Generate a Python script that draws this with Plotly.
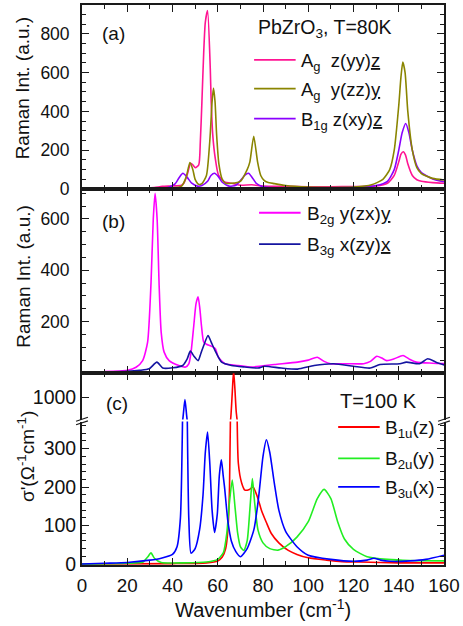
import plotly.graph_objects as go

# ---------------- data ----------------
# Panel (a): Raman, PbZrO3 T=80K
a_pink_x = [0, 10, 20, 28, 32, 35.5, 40, 44, 45, 46.5, 48, 49, 50.1, 51.6, 52.3, 53, 53.8, 54.5, 55.5, 56.7, 57.1, 57.8, 58.9, 60.3, 63, 67, 70, 75, 80, 90, 100, 110, 120, 130, 135, 138, 140, 141, 142, 143, 144, 146, 148, 150, 155, 160]
a_pink_y = [3, 3, 4, 5, 8, 14, 16, 20, 30, 74, 132, 125, 110, 125, 244, 449, 705, 859, 919, 620, 449, 278, 158, 73, 36, 28, 20, 22, 16, 14, 12, 12, 13, 16, 30, 70, 140, 180, 192, 175, 130, 70, 48, 40, 33, 30]

a_olive_x = [0, 30, 40, 44, 46, 47.7, 49, 50, 51.5, 53, 55, 56.5, 57.5, 58.1, 58.8, 59.5, 60.5, 62, 63.5, 66, 70, 73, 74.2, 75.9, 77.6, 79, 80.5, 82, 85, 90, 100, 110, 120, 128, 133, 136, 138, 140, 141, 141.8, 142.8, 144, 146, 148, 150, 155, 160]
a_olive_y = [2, 3, 5, 15, 60, 137, 100, 50, 25, 28, 70, 250, 450, 520, 450, 280, 130, 50, 30, 30, 40, 100, 140, 272, 140, 70, 45, 35, 28, 18, 10, 8, 10, 22, 50, 100, 200, 430, 580, 654, 600, 400, 200, 110, 80, 55, 47]

a_purple_x = [0, 30, 38, 41, 43, 44.6, 46.5, 48.5, 51, 53, 55.5, 57, 58.6, 60.2, 62, 65, 68, 70.5, 72, 73.6, 75.2, 77, 80, 90, 100, 120, 130, 135, 138, 140, 141.5, 143.1, 144.5, 146, 148, 150, 155, 160]
a_purple_y = [2, 3, 8, 25, 60, 81, 60, 30, 15, 18, 40, 70, 81, 65, 35, 15, 20, 50, 72, 81, 60, 30, 12, 6, 6, 9, 18, 40, 100, 200, 290, 338, 290, 200, 120, 85, 52, 38]

# Panel (b): Raman
b_mag_x = [10, 20, 23.9, 26.8, 29, 30.5, 31.5, 32.3, 33.2, 34.1, 35, 36.3, 38.5, 42.8, 45.8, 47.2, 48.2, 49.4, 50.4, 51.3, 52.1, 52.8, 53.8, 55, 57, 58.9, 60.3, 63.2, 69, 75, 85, 95.3, 100, 104, 107, 109.9, 117, 124.5, 127.5, 130.3, 132.5, 134.7, 138, 141.9, 145, 147.7, 155, 160.8]
b_mag_y = [5, 10, 22, 48, 120, 350, 600, 700, 600, 340, 158, 81, 48, 29, 23, 35, 81, 184, 270, 297, 250, 184, 120, 112, 105, 95, 61, 36, 29, 23, 33, 42, 50, 61, 45, 36, 36, 36, 45, 65, 58, 48, 55, 68, 52, 42, 38, 36]

b_navy_x = [10, 20, 25.4, 29.7, 33.1, 35.7, 40.1, 44.5, 46.5, 47.9, 49.5, 51.3, 52.5, 53.8, 55.7, 57.1, 58.8, 61.7, 66.1, 72, 77.8, 80.7, 88, 95.3, 102.6, 111.3, 120, 127.4, 131.7, 140.5, 143.4, 149.2, 152.8, 156.5, 160.8]
b_navy_y = [3, 6, 10, 16, 42, 19, 20, 29, 55, 85, 65, 48, 75, 107, 146, 120, 87, 42, 29, 23, 19, 26, 19, 15, 29, 36, 26, 19, 33, 36, 42, 36, 55, 42, 29]

# Panel (c): optical conductivity, T=100 K
c_red_x = [0, 40, 55, 60, 62, 63.5, 64.5, 65.2, 65.8, 66.4, 67, 67.6, 68.2, 69.1, 70.6, 72, 74, 75.6, 77.5, 79.3, 81.5, 83.6, 87, 91, 95, 100, 108, 115, 123, 140, 160]
c_red_y = [0, 1, 3, 8, 18, 40, 90, 200, 500, 1100, 1700, 1200, 600, 262, 210, 192, 194, 200, 175, 140, 108, 80, 55, 36, 25, 16, 10, 6, 5, 3, 3]

c_green_x = [0, 20, 27, 29, 30.5, 32, 35, 45, 55, 60, 62.5, 64, 65, 66.4, 67.6, 68.8, 70, 71.5, 73, 74.3, 75.3, 76.3, 77.8, 80, 83, 86.6, 90, 95, 100, 104, 107, 110, 113, 116, 120, 126, 135, 145, 160]
c_green_y = [0, 2, 5, 18, 29, 15, 4, 3, 5, 12, 30, 80, 150, 218, 150, 80, 45, 35, 60, 150, 222, 160, 88, 55, 40, 36, 45, 70, 110, 170, 194, 170, 110, 65, 38, 19, 12, 9, 8]

c_blue_x = [0, 10, 20, 30, 35, 40, 42, 43.5, 44.5, 45.5, 46.3, 47.2, 48.2, 50, 52, 53.5, 54.5, 55.5, 56.5, 57.5, 58.6, 59.8, 60.7, 61.6, 62.4, 63, 64.5, 66, 68, 70, 73, 76, 78, 80, 81.5, 83, 85, 87, 90, 95, 100, 110, 120, 126, 129, 132, 136, 145, 152, 160]
c_blue_y = [0, 2, 4, 10, 15, 25, 45, 120, 400, 940, 500, 120, 28, 40, 90, 180, 290, 343, 260, 140, 82, 130, 230, 271, 230, 200, 110, 60, 32, 19, 40, 90, 170, 280, 323, 290, 210, 140, 85, 45, 23, 12, 7, 10, 15, 10, 7, 8, 12, 23]

x_ticks = [0, 20, 40, 60, 80, 100, 120, 140, 160]

# ---------------- layout helpers ----------------
W, H = 463, 626
L, R, T, B = 82, 448, 3, 565   # plot area in pixels


def px(x, y):
    return (x - L) / (R - L), (B - y) / (B - T)


FONT = "Liberation Sans, Arial, Helvetica, sans-serif"
AX = "#1a1a1a"

dom_a = [px(0, 188)[1], 1.0]
dom_b = [px(0, 372.5)[1], px(0, 188)[1]]
dom_c_hi = [px(0, 419)[1], px(0, 372.5)[1]]
dom_c_lo = [0.0, px(0, 421)[1]]

fig = go.Figure()

def add(x, y, color, xa, ya):
    fig.add_trace(go.Scatter(x=x, y=y, mode="lines", xaxis=xa, yaxis=ya,
                             line=dict(color=color, width=1.6, shape="spline", smoothing=0.6),
                             showlegend=False, hoverinfo="skip"))

c_pink, c_olive, c_purple = "#ff1493", "#8a8500", "#8a00ff"
c_mag, c_navy = "#ff00ff", "#1414a0"
c_r, c_g, c_b = "#ff0000", "#22ee22", "#0000ff"

add(a_pink_x, a_pink_y, c_pink, "x", "y")
add(a_purple_x, a_purple_y, c_purple, "x", "y")
add(a_olive_x, a_olive_y, c_olive, "x", "y")

add(b_mag_x, b_mag_y, c_mag, "x2", "y2")
add(b_navy_x, b_navy_y, c_navy, "x2", "y2")

for xa, ya in (("x3", "y3"), ("x4", "y4")):
    add(c_red_x, c_red_y, c_r, xa, ya)
    add(c_green_x, c_green_y, c_g, xa, ya)
    add(c_blue_x, c_blue_y, c_b, xa, ya)

def tf(size):
    return dict(family=FONT, size=size, color="#111")

def xaxis(anchor, labels=False, mirror="ticks", side="bottom"):
    return dict(domain=[0, 1], anchor=anchor, range=[0, 160], tickvals=x_ticks,
                ticks="inside", ticklen=7, tickwidth=1.2, tickcolor=AX,
                minor=dict(dtick=10, tick0=0, ticks="inside", ticklen=4, tickwidth=1.2, tickcolor=AX),
                showline=True, linewidth=1.8, linecolor=AX, mirror=mirror, side=side,
                showgrid=False, zeroline=False, showticklabels=labels, tickfont=tf(18.8),
                ticklabelstandoff=3, ticklabeloverflow="allow")

def yaxis(anchor, dom, rng, tv, mdt, size, standoff):
    d = dict(domain=dom, anchor=anchor, range=rng, tickvals=tv,
             ticks="inside", ticklen=7, tickwidth=1.2, tickcolor=AX,
             showline=True, linewidth=1.8, linecolor=AX, mirror="ticks",
             showgrid=False, zeroline=False, tickfont=tf(size), ticklabelstandoff=standoff)
    if mdt:
        d["minor"] = dict(dtick=mdt, tick0=0, ticks="inside", ticklen=4, tickwidth=1.2, tickcolor=AX)
    return d

fig.update_layout(
    width=W, height=H, margin=dict(l=L, r=W - R, t=T, b=H - B),
    paper_bgcolor="white", plot_bgcolor="white",
    xaxis=xaxis("y"),
    yaxis=yaxis("x", dom_a, [-1.5, 948], [0, 200, 400, 600, 800], 50, 17.5, 7),
    xaxis2=xaxis("y2"),
    yaxis2=yaxis("x2", dom_b, [-1, 715.5], [200, 400, 600], 50, 17.5, 7),
    xaxis3=xaxis("y3", labels=True, mirror=False),
    yaxis3=yaxis("x3", dom_c_lo, [-2.6, 370.5], [0, 100, 200, 300], 20, 19.5, 0),
    xaxis4=xaxis("y4", mirror=False, side="top"),
    yaxis4=yaxis("x4", dom_c_hi, [420, 1630], [1000], None, 19.5, 0),
)

ann = []
def text(x, y, s, size=18.5, xanchor="left", angle=0):
    X, Y = px(x, y)
    ann.append(dict(x=X, y=Y, xref="paper", yref="paper", text=s, showarrow=False,
                    xanchor=xanchor, yanchor="middle", textangle=angle,
                    font=dict(family=FONT, size=size, color="#111")))

shapes = []
def seg(x0, y0, x1, y1, color, w=1.8):
    X0, Y0 = px(x0, y0)
    X1, Y1 = px(x1, y1)
    shapes.append(dict(type="line", xref="paper", yref="paper", x0=X0, y0=Y0, x1=X1, y1=Y1,
                       line=dict(color=color, width=w)))

# panel labels
text(100, 32, "(a)", size=19)
text(100, 220, "(b)", size=19)
text(104, 403, "(c)", size=19)

# panel (a) title + legend
text(258, 27, "PbZrO<sub>3</sub>, T=80K", size=19.5)
for yy, col, s in ((58, c_pink, "A<sub>g</sub>  z(yy)<u>z</u>"),
                   (87, c_olive, "A<sub>g</sub>  y(zz)<u>y</u>"),
                   (117, c_purple, "B<sub>1g</sub> z(xy)<u>z</u>")):
    seg(256, yy, 298, yy, col)
    text(301, yy + 2, s)

# panel (b) legend
for yy, col, s in ((211.5, c_mag, "B<sub>2g</sub> y(zx)<u>y</u>"),
                   (243, c_navy, "B<sub>3g</sub> x(zy)<u>x</u>")):
    seg(261, yy, 303, yy, col)
    text(307, yy + 2, s, size=19)

# panel (c) legend
text(341, 400, "T=100 K", size=20)
for yy, col, s in ((426.5, c_r, "B<sub>1u</sub>(z)"),
                   (458, c_g, "B<sub>2u</sub>(y)"),
                   (486.5, c_b, "B<sub>3u</sub>(x)")):
    seg(341, yy, 383, yy, col)
    text(386, yy + 2, s, size=19)

# axis titles
text(22, 86, "Raman Int. (a.u.)", size=19, angle=-90, xanchor="center")
text(22, 275, "Raman Int. (a.u.)", size=19, angle=-90, xanchor="center")
text(26, 456, "σ'(Ω<sup>-1</sup>cm<sup>-1</sup>)", size=19, angle=-90, xanchor="center")
text(265, 609, "Wavenumber (cm<sup>-1</sup>)", size=20, xanchor="center")

# axis-break marks
for xc in (L, R):
    for dy in (-1.8, 1.8):
        seg(xc - 6, 422.5 + dy, xc + 6, 418.5 + dy, AX, 1.2)

fig.update_layout(annotations=ann, shapes=shapes)
fig.write_html("out.html", config={"displayModeBar": False},
               post_script="document.body.style.margin='0';document.body.style.overflow='hidden';")
